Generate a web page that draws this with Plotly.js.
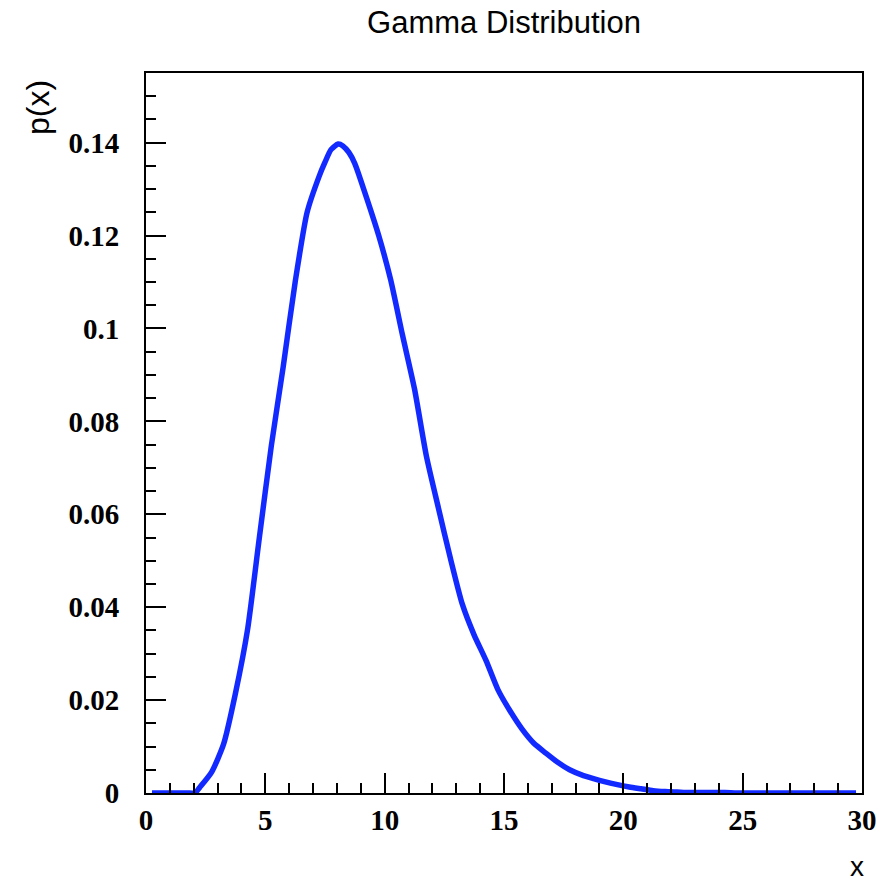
<!DOCTYPE html>
<html>
<head>
<meta charset="utf-8">
<script src="https://cdn.plot.ly/plotly-3.0.1.min.js"></script>
<style>html,body{margin:0;padding:0;background:#fff;}#chart{width:890px;height:885px;}</style>
</head>
<body>
<div id="chart"></div>
<script>
// x positions of the curve points
const xValues = [0.25,0.75,1.25,1.75,2.05,2.25,2.75,3.25,3.75,4.25,4.75,5.25,5.75,6.25,6.75,7.25,7.5,7.75,8.05,8.25,8.5,8.75,9.25,9.75,10.25,10.75,11.25,11.75,12.25,12.75,13.25,13.75,14.25,14.75,15.25,15.75,16.25,16.75,17.25,17.75,18.25,18.75,19.25,19.75,20.25,20.75,21.25,21.75,22.25,22.75,23.25,23.75,24.25,24.75,25.25,25.75,26.25,26.75,27.25,27.75,28.25,28.75,29.25,29.75];
// p(x) values
const pValues = [0,0,0,0,0,0.0012,0.0045,0.0105,0.0215,0.035,0.055,0.0747,0.0918,0.110,0.125,0.1327,0.1358,0.1385,0.1397,0.1393,0.1379,0.1355,0.128,0.120,0.1105,0.0985,0.087,0.0725,0.0614,0.0506,0.0407,0.034,0.0285,0.0222,0.0177,0.0138,0.0107,0.0086,0.0066,0.0050,0.0039,0.0031,0.0024,0.0018,0.0013,0.0009,0.0005,0.0003,0.0002,0.0001,0.0001,0.0001,0.0001,0,0,0,0,0,0,0,0,0,0,0];
const xTickVals = [0,5,10,15,20,25,30];
const xTickText = ["0","5","10","15","20","25","30"];
const yTickVals = [0,0.02,0.04,0.06,0.08,0.1,0.12,0.14];
const yTickText = ["0","0.02","0.04","0.06","0.08","0.1","0.12","0.14"];
const chartTitle = "Gamma Distribution";
const xTitle = "x";
const yTitle = "p(x)";

const tickFont = {family: "Liberation Serif, Times New Roman, serif", size: 29, color: "#000", weight: "bold"};

const trace = {
  x: xValues, y: pValues, type: "scatter", mode: "lines",
  line: {color: "rgb(18,42,255)", width: 5.5, shape: "spline", smoothing: 0.6},
  hoverinfo: "skip"
};

const layout = {
  width: 890, height: 885,
  margin: {l: 146, r: 28, t: 73, b: 92, pad: 0},
  paper_bgcolor: "#fff", plot_bgcolor: "#fff",
  showlegend: false,
  title: {
    text: chartTitle, x: 0.5, xref: "paper", xanchor: "center",
    y: 1 - 22/885, yref: "container", yanchor: "middle",
    font: {family: "Liberation Sans, Arial, sans-serif", size: 31, color: "#000"}
  },
  xaxis: {
    range: [0, 30], showgrid: false, zeroline: false,
    showline: true, linecolor: "#000", linewidth: 2, mirror: true,
    ticks: "inside", ticklen: 20, tickwidth: 2, tickcolor: "#000",
    tickvals: xTickVals, ticktext: xTickText, tickfont: tickFont,
    ticklabelstandoff: 0,
    minor: {dtick: 1, ticks: "inside", ticklen: 10, tickwidth: 2, tickcolor: "#000", showgrid: false}
  },
  yaxis: {
    range: [0, 0.155], showgrid: false, zeroline: false,
    showline: true, linecolor: "#000", linewidth: 2, mirror: true,
    ticks: "inside", ticklen: 20, tickwidth: 2, tickcolor: "#000",
    tickvals: yTickVals, ticktext: yTickText, tickfont: tickFont,
    ticklabelstandoff: 19,
    minor: {dtick: 0.005, ticks: "inside", ticklen: 10, tickwidth: 2, tickcolor: "#000", showgrid: false}
  },
  annotations: [
    {text: yTitle, xref: "paper", yref: "paper", x: (38-146)/716, y: (793-108)/720,
     xanchor: "center", yanchor: "middle", textangle: -90, showarrow: false,
     font: {family: "Liberation Sans, Arial, sans-serif", size: 32, color: "#000"}},
    {text: xTitle, xref: "paper", yref: "paper", x: (857-146)/716, y: (793-884)/720,
     xanchor: "center", yanchor: "bottom", showarrow: false,
     font: {family: "Liberation Sans, Arial, sans-serif", size: 28, color: "#000"}}
  ]
};

Plotly.newPlot("chart", [trace], layout, {displayModeBar: false, staticPlot: true});
</script>
</body>
</html>
